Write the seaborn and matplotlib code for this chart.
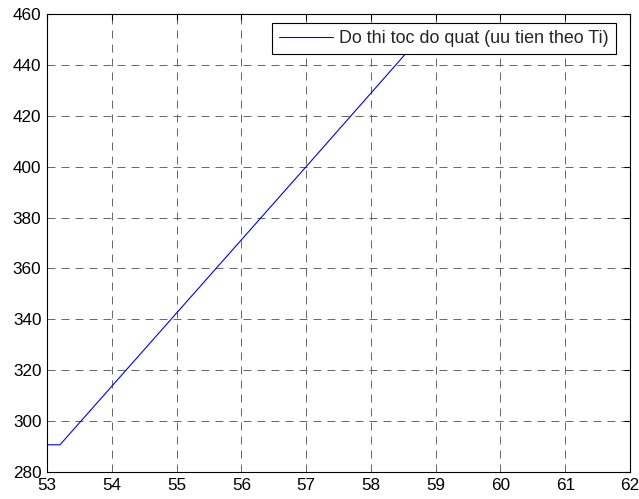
import numpy as np
import pandas as pd
import matplotlib
matplotlib.use("Agg")
import matplotlib.pyplot as plt
import seaborn as sns

# toc do quat theo nhiet do
temp = [53.0, 53.2, 57.0, 58.8]
speed = [290.7, 290.7, 400.0, 452.0]
label = "Do thi toc do quat (uu tien theo Ti)"

df = pd.DataFrame({"T": temp, "v": speed})

sns.set_style("white")
plt.rcParams["font.family"] = ["Liberation Sans", "DejaVu Sans"]
plt.rcParams["font.size"] = 12

fig = plt.figure(figsize=(6.39, 4.99), dpi=100)
ax = fig.add_axes([0.0736, 0.0541, 0.9124, 0.9179])

sns.lineplot(data=df, x="T", y="v", color="blue", linewidth=0.8, label=label, ax=ax, sort=False)

ax.set_xlim(53, 62)
ax.set_ylim(280, 460)
ax.set_xticks(np.arange(53, 63, 1))
ax.set_yticks(np.arange(280, 461, 20))
ax.set_xlabel("")
ax.set_ylabel("")
ax.grid(True, linestyle=(0, (8.2, 6.2)), color="#666666", linewidth=0.7)
ax.tick_params(direction="in", top=True, right=True, length=4, colors="black", labelsize=12.3, pad=4)
for s in ax.spines.values():
    s.set_color("black")
    s.set_linewidth(0.8)

leg = ax.legend(loc="upper right", bbox_to_anchor=(616 / 639, 1 - 23 / 499), bbox_transform=fig.transFigure,
                frameon=True, fancybox=False, framealpha=1, edgecolor="black", borderaxespad=0,
                borderpad=0.4, handlelength=3.0, handletextpad=0.35, fontsize=12.9)
leg.get_frame().set_linewidth(0.8)

fig.savefig("out.png", dpi=100)
